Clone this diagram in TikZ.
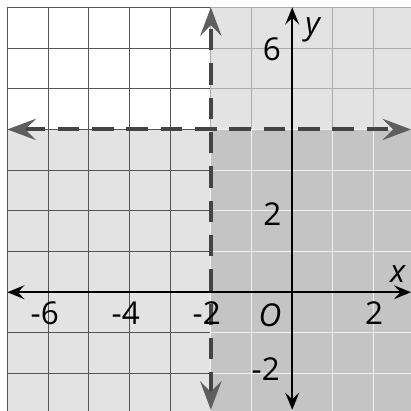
\documentclass[tikz,border=0pt]{standalone}
\usepackage{fontspec}
\setmainfont{Open Sans}
\usetikzlibrary{arrows.meta,positioning}

\definecolor{lightshade}{HTML}{E3E3E3}
\definecolor{darkshade}{HTML}{C4C4C4}
\definecolor{gridgrey}{HTML}{555555}
\definecolor{dashgrey}{HTML}{444444}
\definecolor{tipgrey}{HTML}{5E5E5E}

\begin{document}
\begin{tikzpicture}[
    lbl/.style={font=\fontsize{22}{26}\selectfont, inner sep=0pt},
    axis/.style={line width=1.7pt, {Stealth[length=4.2mm, width=3.4mm, inset=1.6mm]}-{Stealth[length=4.2mm, width=3.4mm, inset=1.6mm]}},
    bound/.style={line width=2.8pt, color=dashgrey, dash pattern=on 15pt off 9pt,
        {Stealth[length=7mm, width=5.2mm, inset=2.6mm, color=tipgrey]}-{Stealth[length=7mm, width=5.2mm, inset=2.6mm, color=tipgrey]}}
]
    \useasboundingbox (-7.18,-2.894) rectangle (2.918,7.18);

        % Shading and grid
    \fill[lightshade] (-7,-3) rectangle (3,4);
    \fill[lightshade] (-2,4) rectangle (3,7);
    \fill[darkshade] (-2,-3) rectangle (3,4);
    \draw[gridgrey, line width=0.7pt] (-7,-3) grid (-2,7);
    \draw[gray!65, line width=0.7pt] (-2,4) grid (3,7);
    \draw[white!75!darkshade, line width=0.7pt] (-2,-3) grid (3,4);

        % Axis ends
    \coordinate (xl) at (-7,0);
    \coordinate (xr) at (2.92,0);
    \coordinate (yb) at (0,-2.89);
    \coordinate (yt) at (0,7);
    \coordinate (hl) at (-7,4);
    \coordinate (hr) at (2.92,4);
    \coordinate (vb) at (-2,-2.89);
    \coordinate (vt) at (-2,7);

        % Arrows
    \draw [axis] (xl) -- (xr);
    \draw [axis] (yb) -- (yt);
    \draw [bound] (hl) -- (hr);
    \draw [bound] (vb) -- (vt);

        % Nodes
    \node (xm6) [lbl] at (-6.08,-0.52) {-6};
    \node (xm4) [lbl] at (-4.09,-0.52) {-4};
    \node (xm2) [lbl] at (-2.1,-0.52) {-2};
    \node (xp2) [lbl] at (2.01,-0.52) {2};
    \node (orig) [lbl] at (-0.55,-0.56) {\textit{O}};
    \node (yp6) [lbl] at (-0.5,5.98) {6};
    \node (yp2) [lbl] at (-0.49,1.93) {2};
    \node (ym2) [lbl] at (-0.65,-1.9) {-2};
    \node (xlab) [lbl] at (2.6,0.44) {\textit{x}};
    \node (ylab) [lbl] at (0.52,6.45) {\textit{y}};

\end{tikzpicture}
\end{document}
